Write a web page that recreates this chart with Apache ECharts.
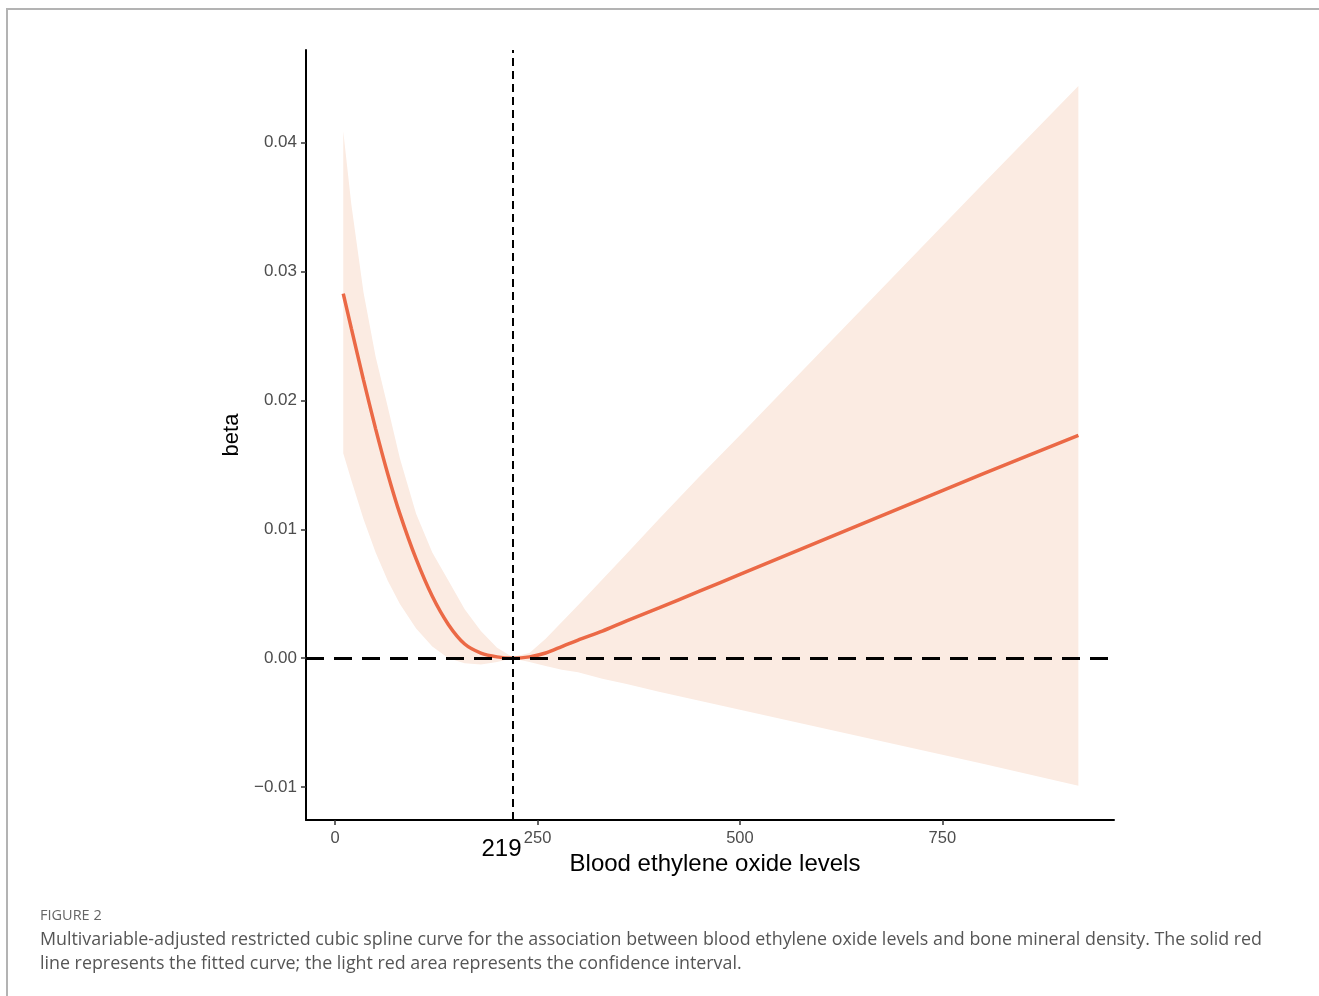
<!DOCTYPE html>
<html>
<head>
<meta charset="utf-8">
<script src="https://cdn.jsdelivr.net/npm/echarts@6/dist/echarts.min.js"></script>
<style>
  html, body { margin: 0; padding: 0; background: #fff; }
  #frame { position: absolute; left: 6px; top: 8px; width: 1313px; height: 988px;
           border-top: 2px solid #b3b3b3; border-left: 2px solid #b3b3b3; box-sizing: border-box; }
  #chart { position: absolute; left: 0; top: 0; width: 1319px; height: 996px; }
  #figlabel { position: absolute; left: 40px; top: 905px; font-family: 'Open Sans', sans-serif;
              font-size: 14.5px; color: #666; }
  #caption { position: absolute; left: 40px; top: 926px; font-family: 'Open Sans', sans-serif;
             font-size: 17.85px; line-height: 24px; color: #555; white-space: nowrap; }
</style>
</head>
<body>
<div id="frame"></div>
<div id="chart"></div>
<div id="figlabel">FIGURE 2</div>
<div id="caption">Multivariable-adjusted restricted cubic spline curve for the association between blood ethylene oxide levels and bone mineral density. The solid red<br>line represents the fitted curve; the light red area represents the confidence interval.</div>
<script>
// ---- data ----
const xValues     = [10, 20, 35, 50, 65, 80, 100, 120, 140, 160, 180, 200, 219, 240, 260, 280, 300, 330, 360, 400, 450, 500, 600, 700, 800, 918];
const fitValues   = [0.0283, 0.0256, 0.0216, 0.0178, 0.0143, 0.0112, 0.0077, 0.0048, 0.0026, 0.0011, 0.0004, 0.0001, 0, 0.0001, 0.0004, 0.0009, 0.0014, 0.0021, 0.0029, 0.0039, 0.0052, 0.0065, 0.0091, 0.0117, 0.0143, 0.0173];
const upperValues = [0.0409, 0.0352, 0.0284, 0.0234, 0.0195, 0.0155, 0.0112, 0.0082, 0.0060, 0.0038, 0.0021, 0.0008, 0.0001, 0.0004, 0.0015, 0.0028, 0.0041, 0.0061, 0.0081, 0.0108, 0.0141, 0.0173, 0.0238, 0.0303, 0.0368, 0.0444];
const lowerValues = [0.0159, 0.0138, 0.0108, 0.0082, 0.0060, 0.0042, 0.0023, 0.0009, 0.0000, -0.0004, -0.0005, -0.0003, 0, -0.0003, -0.0006, -0.0009, -0.0011, -0.0016, -0.0020, -0.0026, -0.0033, -0.0040, -0.0054, -0.0068, -0.0082, -0.0099];
const refX = 219;
const refY = 0;
const xTicks = [0, 250, 500, 750];
const yTicks = [-0.01, 0, 0.01, 0.02, 0.03, 0.04];
const xTitle = 'Blood ethylene oxide levels';
const yTitle = 'beta';

const FONT = 'Liberation Sans';
const chart = echarts.init(document.getElementById('chart'), null, { renderer: 'canvas' });

const bandData = xValues.map((x, i) => [x, lowerValues[i], upperValues[i]]);

function renderBand(params, api) {
  if (params.dataIndex !== 0) return null;
  const pts = [];
  for (let i = 0; i < bandData.length; i++) pts.push(api.coord([bandData[i][0], bandData[i][2]]));
  for (let i = bandData.length - 1; i >= 0; i--) pts.push(api.coord([bandData[i][0], bandData[i][1]]));
  return {
    type: 'polygon',
    shape: { points: pts },
    style: { fill: '#FBEBE2', stroke: null }
  };
}

const option = {
  animation: false,
  backgroundColor: 'transparent',
  grid: { left: 306, right: 205, top: 50, bottom: 176, containLabel: false },
  xAxis: {
    type: 'value', min: -36, max: 962,
    name: xTitle, nameLocation: 'middle', nameGap: 32, nameMoveOverlap: false,
    nameTextStyle: { fontSize: 24, color: '#000', fontFamily: FONT, padding: [0, 0, 0, 10] },
    axisLine: { show: true, onZero: false, lineStyle: { color: '#000', width: 2 } },
    axisTick: { show: true, customValues: xTicks, length: 5, lineStyle: { color: '#333', width: 1.5 } },
    axisLabel: {
      customValues: xTicks.concat([refX]), color: '#4d4d4d', fontSize: 16.5, margin: 10, fontFamily: FONT,
      formatter: v => (v === refX ? '{r|' + v + '}' : String(v)),
      rich: { r: { fontSize: 24, color: '#000', fontFamily: FONT, padding: [7, 22, 0, 0] } }
    },
    splitLine: { show: false }
  },
  yAxis: {
    type: 'value', min: -0.01256, max: 0.0472,
    name: yTitle, nameLocation: 'middle', nameGap: 63, nameRotate: 90, nameMoveOverlap: false,
    nameTextStyle: { fontSize: 22, color: '#000', fontFamily: FONT },
    axisLine: { show: true, onZero: false, lineStyle: { color: '#000', width: 2 } },
    axisTick: { show: true, customValues: yTicks, length: 5, lineStyle: { color: '#333', width: 1.5 } },
    axisLabel: {
      customValues: yTicks, color: '#4d4d4d', fontSize: 17, margin: 9, fontFamily: FONT,
      formatter: v => (v < 0 ? '\u2212' + Math.abs(v).toFixed(2) : v.toFixed(2))
    },
    splitLine: { show: false }
  },
  series: [
    {
      name: 'band', type: 'custom', renderItem: renderBand,
      data: bandData, encode: { x: 0, y: [1, 2] },
      silent: true, z: 1
    },
    {
      name: 'fit', type: 'line',
      data: xValues.map((x, i) => [x, fitValues[i]]),
      symbol: 'none', smooth: 0.25,
      lineStyle: { color: '#EB6946', width: 3.5 }, z: 3,
      markLine: {
        silent: true, symbol: 'none', label: { show: false }, z: 4,
        data: [
          { xAxis: refX, lineStyle: { color: '#000', width: 2, type: [8, 5] } },
          { yAxis: refY, lineStyle: { color: '#000', width: 3, type: [18, 10] } }
        ]
      }
    }
  ]
};
chart.setOption(option);
</script>
</body>
</html>
